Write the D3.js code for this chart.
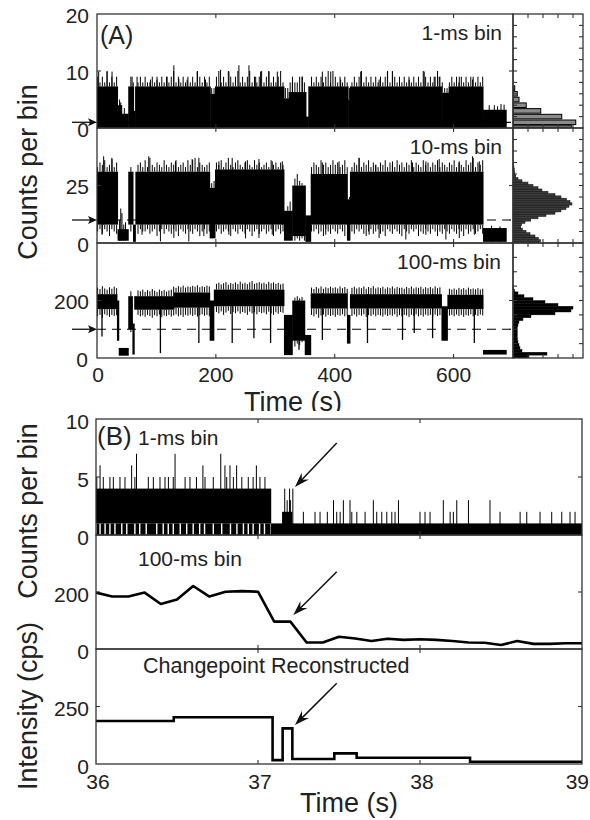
<!DOCTYPE html>
<html><head><meta charset="utf-8">
<script src="https://cdn.jsdelivr.net/npm/d3@7"></script>
<style>
body{margin:0;background:#fff}
svg{display:block}
text{font-family:"Liberation Sans",Arial,sans-serif;fill:#222}
</style>
</head><body>
<svg id="c" width="590" height="820"></svg>
<script>
// ===================== DATA =====================
const aTicksX = [0, 200, 400, 600];
const aThresholds = [1, 10, 100];
// 1-ms bin trace: [tStart, tEnd, level]
const a1Levels = [[0,35,7.3],[35,42,4],[42,53,2.5],[53,62,7.3],[62,64.5,3],[64.5,191,7.3],[191,199,6],[199,315,7.3],[315,323,5.2],[323,352,6.3],[352,356,2],[356,423,7.3],[423,426,5],[426,580,7.3],[580,592,6.2],[592,650,7.3],[650,689,3.2]];
// 1-ms bin tall spikes [t, counts]
const a1Spikes = [[2.8,9.9],[16.9,9.9],[25.3,9.9],[59,9],[67.4,9],[89.9,8.5],[101,8.5],[118,9],[129.3,11],[137.7,8.6],[151.7,8.5],[168.6,9.9],[182.6,8.5],[207.9,10.2],[222,9.9],[238.8,11],[255.7,11],[267,9],[275.3,9.9],[289.4,9.9],[303.4,9.9],[328.7,8],[345.5,9],[379.2,9.9],[393.3,9.9],[410,8.5],[443.8,9.9],[474.7,8.5],[488.7,9.9],[497.2,9.9],[525.3,8.5],[550.6,9.9],[567.4,9],[575.8,9],[609.6,9],[632,8.5],[660,4],[668.6,4],[674,3.8],[679.8,4.2],[685,4.1],[38,5],[40,4.5],[46,3.5]];
// dense "grass" maxima every 4 s (t = 0,4,...,648)
const grassStep = 4;
const a1Grass = [9,8,9,8,10,8,9,8,9,0, 0,0,0,0,9,8,0,8,9,8, 9,8,8,9,8,9,8,9,8,9, 8,9,10,8,9,8,9,8,9,8, 9,8,10,9,8,9,8,9,7,7, 9,10,8,9,8,10,9,8,9,10, 8,9,8,9,10,8,9,8,9,10, 8,9,10,8,9,8,9,10,8,7, 7,8,9,8,8,9,9,8,0,0, 9,8,9,8,9,8,9,10,8,10, 9,8,9,8,9,8,7,8,9,8, 9,10,8,9,8,9,8,9,8,9, 8,9,10,8,10,9,8,9,8,9, 8,9,8,9,8,9,8,10,9,8, 9,8,9,10,9,8,7,7,8,9, 8,9,8,9,8,9,8,9,9,8, 9,8,9];
// 10-ms bin trace bands: [tStart, tEnd, low, high]
const a2Bands = [[0,35,8,31],[35,53,1,6],[53,61,8,31],[61,65,0.5,8],[65,190,8,31],[190,199,2,24],[199,315,8,32],[315,329,1,14],[329,351,3,25],[351,360,0.5,12],[360,421,8,30],[421,426,1,19],[426,650,8,31],[650,689,0.5,6.5]];
const a2Up = [[11.2,37.7],[25.3,36.5],[87.1,37.7],[132,35.5],[160.1,36.5],[171.4,37],[205.1,35.5],[227.5,37],[250,35.5],[272.5,36.5],[294.9,35.5],[311.8,35.5],[379.2,35],[407.3,35.5],[441,37],[469.1,34],[497.2,35.5],[530.9,35],[553.4,35.5],[575.8,36.5],[609.6,35.5],[632,37.7],[643.3,35.5],[38,10],[40,15],[42,13],[45,8],[48,9],[664,7.5],[678,7.2]];
const a2Down = [[8.4,3.6],[75.8,3.6],[106.7,0.7],[129.3,2.2],[154.5,0.7],[179.8,3],[221.9,3.6],[250,2],[272.5,2.2],[294.9,3.6],[384.9,3.6],[457.9,3.6],[474.7,2.2],[519.7,1.5],[553.4,3.6],[587.1,1.5],[609.6,2.2],[634.9,3.6]];
const a2GrassUp = [33,35,34,36,33,34,37,33,35,0, 0,0,0,0,33,0,0,34,35,33, 36,33,37,34,33,35,34,33,36,34, 33,35,34,36,33,34,35,33,36,34, 36,37,33,35,34,33,34,35,26,27, 35,34,36,33,35,37,34,33,35,36, 34,33,35,36,34,33,36,34,35,33, 34,35,33,36,34,35,33,35,34,0, 16,18,15,28,30,27,26,0,0,0, 33,35,34,33,36,34,35,33,34,36, 34,35,33,34,36,33,20,33,35,34, 37,33,35,34,36,33,35,34,33,35, 34,36,33,35,34,33,36,34,35,33, 35,34,36,33,35,34,33,36,34,35, 33,35,34,36,33,35,34,33,35,34, 36,33,35,34,33,36,34,35,37,33, 35,34,36];
const a2GrassDown = [5,6,4,6,5,3,6,5,4,0, 0,0,0,0,5,0,0,4,6,5, 5,6,4,5,6,3,5,6,4,6, 5,4,6,5,3,6,5,4,6,5, 4,6,5,3,5,6,4,5,0,0, 5,6,4,5,6,5,3,6,5,4, 6,5,4,6,5,3,5,6,4,5, 6,4,5,6,3,5,6,4,5,0, 0,0,0,1,2,1,2,1,0,0, 5,5,6,4,5,3,6,5,4,6, 5,4,6,5,3,6,0,5,4,6, 5,6,4,3,5,6,4,5,6,4, 5,3,6,5,4,6,5,4,3,6, 5,4,6,5,6,3,5,4,6,5, 4,6,5,3,5,4,6,5,4,6, 5,4,6,5,3,6,4,5,6,4, 5,6,4];
// 100-ms bin trace bands (core of the noisy trace)
const a3Bands = [[0,34,170,222],[34,37,60,200],[37,53,8,35],[53,60,100,215],[60,63,12,120],[63,130,168,215],[130,190,175,228],[190,197,60,200],[197,315,180,238],[315,329,10,150],[329,350,60,200],[350,360,10,80],[360,421,172,225],[421,426,50,150],[426,580,172,222],[580,590,60,180],[590,650,170,220],[650,689,12,28]];
const a3Down = [[8.4,75],[106.7,17],[171.4,52],[227.5,52],[264,69],[292.1,52],[339.9,29],[379.2,63],[455.1,52],[514.1,63],[533.8,87],[564.7,69],[634.9,52]];
const a3GrassUp = [245,240,250,242,238,246,241,248,243,0, 0,0,0,0,232,0,0,235,232,238, 230,236,232,240,234,230,238,233,236,231, 235,238,248,244,250,246,252,245,249,247, 251,248,253,246,250,247,252,249,0,0, 258,262,256,260,264,255,261,258,263,257, 266,259,262,257,263,268,258,261,264,259, 262,257,265,260,263,258,261,256,259,0, 0,0,0,210,215,208,212,0,0,0, 245,240,247,242,249,241,246,243,248,244, 246,242,249,243,247,241,0,244,248,242, 246,243,249,241,247,244,250,242,246,243, 248,241,246,243,249,242,247,244,245,241, 247,243,249,242,246,244,248,241,246,243, 247,242,249,243,246,0,0,0,241,238, 242,237,244,239,243,238,245,240,242,239, 243,238,241];
const a3GrassDown = [145,150,140,152,148,143,150,146,149,0, 0,0,0,0,90,0,0,150,145,148, 143,150,146,140,149,145,151,142,148,146, 150,144,148,152,145,149,143,150,147,151, 146,150,144,149,152,147,150,145,0,0, 160,155,162,150,158,164,153,160,156,162, 154,160,157,150,161,155,159,152,160,156, 158,152,161,155,150,159,154,160,157,0, 0,0,0,40,50,45,55,0,0,0, 150,145,152,140,148,151,144,150,146,149, 143,150,147,152,145,149,0,146,151,144, 150,147,152,143,149,146,151,145,150,148, 144,151,146,150,147,152,143,149,145,150, 148,143,150,146,152,145,149,144,151,147, 150,145,151,146,149,0,0,0,147,150, 145,151,146,150,143,149,147,152,145,150, 146,151,148];
// histograms (relative frequency, %)
const h1Counts = [0,1,2,3,4,5,6,7];
const h1Freq = [23.5,25.1,19.5,11.1,5.3,2.4,1.7,0.7];
const h2Counts = [0,1,2,3,4,5,6,7,8,9,10,11,12,13,14,15,16,17,18,19,20,21,22,23,24,25,26,27,28,29,30,31,32,33,34];
const h2Freq = [10.4,11,10.2,8.8,6.8,5.2,3.8,3.1,3.4,4.8,7.1,10,13.2,16.8,19.2,21.2,22.4,23.6,22.8,21.4,19.2,16.8,14,11.6,10,8,6,3.6,2,1.1,0.8,0.6,0.5,0.4,0.2];
const h3Centers = [5,15,25,35,45,55,65,75,85,95,105,115,125,135,145,155,165,175,185,195,205,215,225,235,245];
const h3Freq = [6.4,13.6,3.6,2.8,2.4,2,1.8,1.7,1.7,1.7,1.7,2,2.4,4,7.2,16.8,23.2,24,18,12.8,8,4.4,2,0.6,0.2];

// Panel B
const bTicksX = [36, 37, 38, 39];
const b1Bands = [[36.0,37.08,1,4],[37.08,39.0,0,1],[37.15,37.21,0,2]];
const b1Gaps = [36.025,36.056,36.086,36.117,36.159,36.19,36.24,36.27,36.31,36.375,36.415,36.446,36.477,36.52,36.56,36.6,36.64,36.67,36.724,36.776,36.83,36.87,36.91,36.94,36.97,37.01,37.04];
const b1Spikes = [[36.025,6],[36.22,6],[36.25,7],[36.488,7],[36.66,6],[36.77,7],[36.796,6],[36.827,6],[36.868,6],[36.99,6],
 [36.005,5],[36.045,5],[36.086,5],[36.107,5],[36.148,5],[36.179,5],[36.24,5],[36.323,5],[36.354,5],[36.395,5],[36.426,5],[36.447,5],[36.477,5],[36.55,5],[36.58,5],[36.62,5],[36.673,5],[36.724,5],[36.807,5],[36.848,5],[36.9,5],[36.94,5],[36.97,5],[37.012,5],[37.043,5],
 [37.165,4],[37.18,3],[37.195,4],[37.215,4],[37.2,3],
 [37.466,3],[37.527,3],[37.568,3],[37.712,3],[37.867,3],[38.144,3],[38.227,3],[38.299,3],[38.432,3],
 [37.28,2],[37.352,2],[37.383,2],[37.428,2],[37.486,2],[37.507,2],[37.579,2],[37.61,2],[37.661,2],[37.733,2],[37.764,2],[37.795,2],[37.826,2],[37.846,2],[38.0,2],[38.031,2],[38.062,2],[38.186,2],[38.206,2],[38.494,2],[38.618,2],[38.659,2],[38.741,2],[38.813,2],[38.875,2],[38.926,2],[38.957,2]];
const b2Times = [36.0,36.1,36.2,36.3,36.4,36.5,36.6,36.7,36.8,36.9,37.0,37.1,37.2,37.3,37.4,37.5,37.6,37.7,37.8,37.9,38.0,38.1,38.2,38.3,38.4,38.5,38.6,38.7,38.8,38.9,39.0];
const b2Values = [198,184,184,198,158,174,221,184,201,203,201,96,96,23,23,43,37,28,36,32,34,32,28,23,22,14,28,18,18,20,20];
const b3Times = [36.0,36.48,37.09,37.152,37.212,37.471,37.609,38.309,39.0];
const b3Levels = [187,203,17,155,22,46,27,10,10];
const bArrows = [[37.228,4.14,37.486,7.93],[37.218,119,37.486,271],[37.228,169.6,37.486,351]];

// ===================== SCALES =====================
const svg = d3.select("#c");
const xA = d3.scaleLinear().domain([0,700]).range([97,513]);
const yA = [d3.scaleLinear([0,20],[128,14]), d3.scaleLinear([0,50],[243,128]), d3.scaleLinear([0,400],[358,243])];
const xH = d3.scaleLinear([0,28],[513,583]);
const xB = d3.scaleLinear([36,39],[96,582]);
const yB = [d3.scaleLinear([0,10],[535,419]), d3.scaleLinear([0,400],[649,535]), d3.scaleLinear([0,500],[764,649])];
const AX = "#333";
const TL = 4;

const defs = svg.append("defs");
function clip(id,x,y,w,h){defs.append("clipPath").attr("id",id).append("rect").attr("x",x).attr("y",y).attr("width",w).attr("height",h);}
yA.forEach((y,i)=>clip("ca"+i,97,y.range()[1],416,y.range()[0]-y.range()[1]));
yA.forEach((y,i)=>clip("ch"+i,513,y.range()[1],70,y.range()[0]-y.range()[1]));
yB.forEach((y,i)=>clip("cb"+i,96,y.range()[1],486,y.range()[0]-y.range()[1]));
clip("ctime",0,0,590,411);

function bandAt(bands,t){let best=null;for(const b of bands){if(t>=b[0]&&t<=b[1]){best=b;}}return best;}

function drawBands(g,bands,x,y){
  g.selectAll(null).data(bands).join("rect")
   .attr("x",d=>x(d[0])-0.25).attr("width",d=>Math.max(0.8,x(d[1])-x(d[0])+0.5))
   .attr("y",d=>y(d[3])).attr("height",d=>y(d[2])-y(d[3])).attr("fill","#000");
}
function drawUp(g,pts,bands,x,y,w){
  g.selectAll(null).data(pts).join("line")
   .attr("x1",d=>x(d[0])).attr("x2",d=>x(d[0]))
   .attr("y1",d=>{const b=bandAt(bands,d[0]);return y(b?b[2]:0);})
   .attr("y2",d=>y(d[1])).attr("stroke","#000").attr("stroke-width",w||1);
}
function drawDown(g,pts,bands,x,y,w){
  g.selectAll(null).data(pts).join("line")
   .attr("x1",d=>x(d[0])).attr("x2",d=>x(d[0]))
   .attr("y1",d=>{const b=bandAt(bands,d[0]);return y(b?b[3]:0);})
   .attr("y2",d=>y(d[1])).attr("stroke","#000").attr("stroke-width",w||1);
}
function drawGrass(g,vals,bands,x,y,dir){
  const pts=[];
  vals.forEach((v,k)=>{const t=k*grassStep+1;const b=bandAt(bands,t);if(!b||v<=0)return;
    if(dir==="up"&&v>b[3])pts.push([t,b[3],v]);
    if(dir==="down"&&v<b[2])pts.push([t,b[2],v]);});
  g.selectAll(null).data(pts).join("line")
   .attr("x1",d=>x(d[0])).attr("x2",d=>x(d[0])).attr("y1",d=>y(d[1])).attr("y2",d=>y(d[2]))
   .attr("stroke","#000").attr("stroke-width",1);
}
function frame(x0,x1,y0,y1){
  svg.append("rect").attr("x",x0).attr("y",y0).attr("width",x1-x0).attr("height",y1-y0)
   .attr("fill","none").attr("stroke",AX).attr("stroke-width",1.3);
}
function xTicks(x,vals,y0,y1){
  vals.forEach(v=>{const px=x(v);
    svg.append("line").attr("x1",px).attr("x2",px).attr("y1",y0).attr("y2",y0+TL).attr("stroke",AX).attr("stroke-width",1.1);
    svg.append("line").attr("x1",px).attr("x2",px).attr("y1",y1).attr("y2",y1-TL).attr("stroke",AX).attr("stroke-width",1.1);});
}
function yTicks(y,vals,x0,x1){
  vals.forEach(v=>{const py=y(v);
    svg.append("line").attr("x1",x0).attr("x2",x0+TL).attr("y1",py).attr("y2",py).attr("stroke",AX).attr("stroke-width",1.1);
    svg.append("line").attr("x1",x1).attr("x2",x1-TL).attr("y1",py).attr("y2",py).attr("stroke",AX).attr("stroke-width",1.1);});
}
function label(txt,x,y,size,anchor,extra){
  const t=svg.append("text").attr("x",x).attr("y",y).attr("font-size",size).attr("text-anchor",anchor||"start").text(txt);
  if(extra) extra(t);
  return t;
}

// ===================== PANEL A =====================
yA.forEach((y,i)=>{
  svg.append("line").attr("clip-path","url(#ca"+i+")")
   .attr("x1",xA(0)).attr("x2",xA(700)).attr("y1",y(aThresholds[i])).attr("y2",y(aThresholds[i]))
   .attr("stroke","#000").attr("stroke-width",1.2).attr("stroke-dasharray","9,6");
});
const gA1 = svg.append("g").attr("clip-path","url(#ca0)");
const a1Bands = a1Levels.map(d=>[d[0],d[1],0,d[2]]);
drawBands(gA1,a1Bands,xA,yA[0]);
drawGrass(gA1,a1Grass,a1Bands,xA,yA[0],"up");
drawUp(gA1,a1Spikes,a1Bands,xA,yA[0]);
const gA2 = svg.append("g").attr("clip-path","url(#ca1)");
drawBands(gA2,a2Bands,xA,yA[1]);
drawGrass(gA2,a2GrassUp,a2Bands,xA,yA[1],"up");
drawGrass(gA2,a2GrassDown,a2Bands,xA,yA[1],"down");
drawUp(gA2,a2Up,a2Bands,xA,yA[1]);
drawDown(gA2,a2Down,a2Bands,xA,yA[1]);
const gA3 = svg.append("g").attr("clip-path","url(#ca2)");
drawBands(gA3,a3Bands,xA,yA[2]);
drawGrass(gA3,a3GrassUp,a3Bands,xA,yA[2],"up");
drawGrass(gA3,a3GrassDown,a3Bands,xA,yA[2],"down");
drawDown(gA3,a3Down,a3Bands,xA,yA[2],1.3);

const gH1 = svg.append("g").attr("clip-path","url(#ch0)");
gH1.selectAll(null).data(h1Counts).join("rect")
  .attr("x",xH(0)).attr("width",(d,i)=>xH(h1Freq[i])-xH(0))
  .attr("y",d=>yA[0](d+0.4)).attr("height",d=>yA[0](Math.max(0,d-0.4))-yA[0](d+0.4))
  .attr("fill","#8a8a8a").attr("stroke","#000").attr("stroke-width",1);
const gH2 = svg.append("g").attr("clip-path","url(#ch1)");
gH2.selectAll(null).data(h2Counts).join("rect")
  .attr("x",xH(0)).attr("width",(d,i)=>xH(h2Freq[i])-xH(0))
  .attr("y",d=>yA[1](d+0.5)).attr("height",d=>yA[1](Math.max(0,d-0.5))-yA[1](d+0.5))
  .attr("fill","#3a3a3a").attr("stroke","#111").attr("stroke-width",0.5);
const gH3 = svg.append("g").attr("clip-path","url(#ch2)");
gH3.selectAll(null).data(h3Centers).join("rect")
  .attr("x",xH(0)).attr("width",(d,i)=>xH(h3Freq[i])-xH(0))
  .attr("y",d=>yA[2](d+5)).attr("height",d=>yA[2](d-5)-yA[2](d+5))
  .attr("fill","#000").attr("stroke","#000").attr("stroke-width",0.4);

const hTickY = [d3.range(2,20,2), d3.range(5,50,5), d3.range(50,400,50)];
const aTickY = [[10],[25],[200]];
yA.forEach((y,i)=>{
  const y0=y.range()[1], y1=y.range()[0];
  frame(97,513,y0,y1);
  frame(513,583,y0,y1);
  xTicks(xA,[200,400,600],y0,y1);
  yTicks(y,aTickY[i],97,513);
  yTicks(y,hTickY[i],513,583);
  xTicks(xH,[6,12,18,24],y0,y1);
});
yA.forEach((y,i)=>{
  const py=y(aThresholds[i]);
  svg.append("line").attr("x1",72).attr("x2",92).attr("y1",py).attr("y2",py).attr("stroke","#111").attr("stroke-width",1.3);
  svg.append("path").attr("d",`M97,${py}L88,${py-4}L90,${py}L88,${py+4}Z`).attr("fill","#111");
});

const TF = 21;
[[0,[20,10,0]],[1,[25,0]],[2,[200]]].forEach(([i,vals])=>{
  vals.forEach(v=>label(v,89,yA[i](v)+3,TF,"end",t=>t.attr("dominant-baseline","middle")));
});
label("0",88,yA[2](0)+3,TF,"end",t=>t.attr("dominant-baseline","middle"));
aTicksX.forEach(v=>label(v,xA(v)+(v===0?1:0),376,TF,"middle",t=>t.attr("dominant-baseline","middle")));
label("Time (s)",293,411,27,"middle",t=>t.attr("clip-path","url(#ctime)"));
label("(A)",100,44,25,"start");
label("1-ms bin",502,40,21,"end");
label("10-ms bin",502,154,21,"end");
label("100-ms bin",501,269,21,"end");
label("Counts per bin",0,0,27,"middle",t=>t.attr("transform","translate(37,172) rotate(-90)"));

// ===================== PANEL B =====================
const gB1 = svg.append("g").attr("clip-path","url(#cb0)");
drawBands(gB1,b1Bands,xB,yB[0]);
const b1Bottom = d3.pairs([36.0,...b1Gaps,37.08]);
gB1.selectAll(null).data(b1Bottom).join("rect")
  .attr("x",d=>xB(d[0])+0.7).attr("width",d=>Math.max(0.5,xB(d[1])-xB(d[0])-1.4))
  .attr("y",yB[0](1)).attr("height",yB[0](0)-yB[0](1)).attr("fill","#000");
drawUp(gB1,b1Spikes,b1Bands,xB,yB[0]);
svg.append("path").attr("clip-path","url(#cb1)")
  .attr("d",d3.line().x((d,i)=>xB(b2Times[i])).y(d=>yB[1](d))(b2Values))
  .attr("fill","none").attr("stroke","#000").attr("stroke-width",2.6).attr("stroke-linejoin","round");
svg.append("path").attr("clip-path","url(#cb2)")
  .attr("d",d3.line().curve(d3.curveStepAfter).x((d,i)=>xB(b3Times[i])).y(d=>yB[2](d))(b3Levels))
  .attr("fill","none").attr("stroke","#000").attr("stroke-width",2.6);

const bTickY = [[5],[200],[250]];
yB.forEach((y,i)=>{
  const y0=y.range()[1], y1=y.range()[0];
  frame(96,582,y0,y1);
  xTicks(xB,[37,38],y0,y1);
  yTicks(y,bTickY[i],96,582);
});
bArrows.forEach((a,i)=>{
  const hx=xB(a[0]),hy=yB[i](a[1]),tx=xB(a[2]),ty=yB[i](a[3]);
  const L=Math.hypot(hx-tx,hy-ty),ux=(hx-tx)/L,uy=(hy-ty)/L,nx=-uy,ny=ux;
  svg.append("line").attr("x1",tx).attr("y1",ty).attr("x2",hx-9*ux).attr("y2",hy-9*uy).attr("stroke","#111").attr("stroke-width",1.5);
  svg.append("path").attr("d",`M${hx},${hy}L${hx-15*ux+5*nx},${hy-15*uy+5*ny}L${hx-10*ux},${hy-10*uy}L${hx-15*ux-5*nx},${hy-15*uy-5*ny}Z`).attr("fill","#111");
});
[[0,[10,5,0]],[1,[200,0]],[2,[250,0]]].forEach(([i,vals])=>{
  vals.forEach(v=>label(v,89,yB[i](v)+4,TF,"end",t=>t.attr("dominant-baseline","middle")));
});
bTicksX.forEach(v=>{
  if(v===39) label(v,589,783,TF,"end",t=>t.attr("dominant-baseline","middle"));
  else label(v,xB(v)+2,783,TF,"middle",t=>t.attr("dominant-baseline","middle"));
});
label("Time (s)",349,812,27,"middle");
label("(B)",97,445,26,"start");
label("1-ms bin",138,445,21,"start");
label("100-ms bin",138,566,21,"start");
label("Changepoint Reconstructed",143,673,21.5,"start");
label("Counts per bin",0,0,27,"middle",t=>t.attr("transform","translate(37,511) rotate(-90)"));
label("Intensity (cps)",0,0,27,"middle",t=>t.attr("transform","translate(37,706) rotate(-90)"));
</script>
</body></html>
